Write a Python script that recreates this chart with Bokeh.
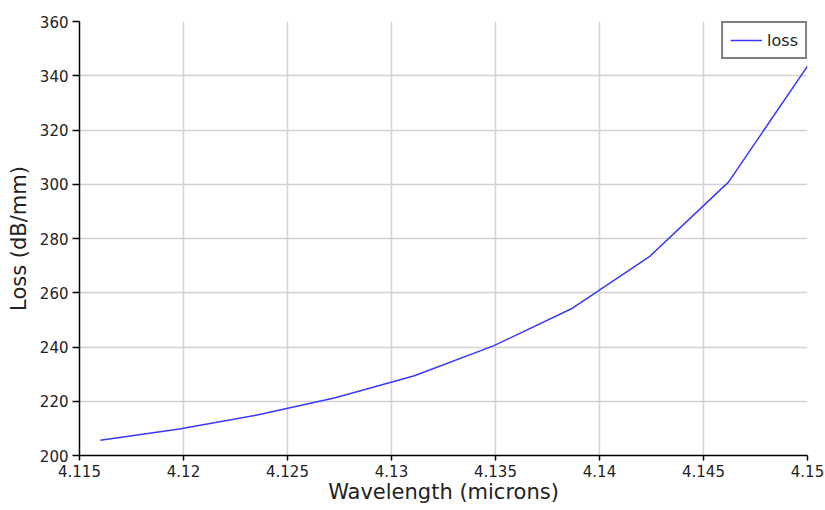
from bokeh.plotting import figure
from bokeh.models import Range1d, FixedTicker, ColumnDataSource
from bokeh.embed import file_html
from bokeh.resources import INLINE

# Data
wavelength = [4.1160, 4.1198, 4.1236, 4.1273, 4.1311, 4.1349, 4.1387, 4.1424, 4.1462, 4.1500]
loss = [205.6, 209.8, 215.0, 221.3, 229.4, 240.4, 254.3, 273.3, 300.8, 343.5]

x_ticks = [4.115, 4.12, 4.125, 4.13, 4.135, 4.14, 4.145, 4.15]
x_tick_labels = ["4.115", "4.12", "4.125", "4.13", "4.135", "4.14", "4.145", "4.15"]
y_ticks = [200, 220, 240, 260, 280, 300, 320, 340, 360]
y_tick_labels = ["200", "220", "240", "260", "280", "300", "320", "340", "360"]

FONT = "DejaVu Sans"
TXT = "#222222"

p = figure(width=825, height=510, output_backend="svg", toolbar_location=None,
           x_range=Range1d(x_ticks[0], x_ticks[-1]), y_range=Range1d(y_ticks[0], y_ticks[-1]),
           min_border_left=79, min_border_right=18, min_border_top=21, min_border_bottom=55)
p.outline_line_color = None
p.background_fill_color = "white"
p.border_fill_color = "white"

src = ColumnDataSource(dict(x=wavelength, y=loss))
p.line("x", "y", source=src, line_color="#3838ff", line_width=1.5, legend_label="loss")

for ax, ticks, labels in ((p.xaxis[0], x_ticks, x_tick_labels), (p.yaxis[0], y_ticks, y_tick_labels)):
    ax.ticker = FixedTicker(ticks=ticks)
    ax.major_label_overrides = {t: l for t, l in zip(ticks, labels)}
    ax.minor_tick_line_color = None
    ax.major_tick_in = 0
    ax.axis_line_color = "black"
    ax.axis_line_width = 1.5
    ax.major_tick_line_color = "black"
    ax.major_tick_line_width = 1.5
    ax.major_label_text_font = FONT
    ax.major_label_text_font_size = "15px"
    ax.major_label_text_color = TXT
    ax.axis_label_text_font = FONT
    ax.axis_label_text_font_size = "21px"
    ax.axis_label_text_font_style = "normal"
    ax.axis_label_text_color = TXT

p.xaxis.axis_label = "Wavelength (microns)"
p.yaxis.axis_label = "Loss (dB/mm)"
p.xaxis.major_tick_out = 5
p.xaxis.major_label_standoff = 4
p.xaxis.axis_label_standoff = 0
p.yaxis.major_tick_out = 7
p.yaxis.major_label_standoff = 4
p.yaxis.axis_label_standoff = 6

p.xgrid.ticker = FixedTicker(ticks=x_ticks[1:-1])
p.ygrid.ticker = FixedTicker(ticks=y_ticks[1:-1])
for g in (p.xgrid, p.ygrid):
    g.grid_line_color = "#d2d2d2"
    g.grid_line_width = 1.5

lg = p.legend[0]
lg.location = "top_right"
lg.margin = 0
lg.padding = 7
lg.spacing = 0
lg.glyph_width = 32
lg.glyph_height = 20
lg.label_height = 20
lg.label_standoff = 5
lg.label_text_font = FONT
lg.label_text_font_size = "16px"
lg.label_text_color = TXT
lg.border_line_color = "black"
lg.border_line_width = 2
lg.background_fill_alpha = 1

open("out.html", "w").write(file_html(p, INLINE))
